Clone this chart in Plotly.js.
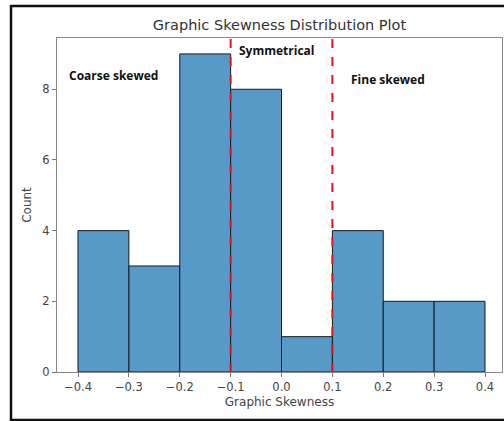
<!DOCTYPE html>
<html>
<head>
<meta charset="utf-8">
<script src="https://cdn.plot.ly/plotly-3.0.1.min.js"></script>
<style>
html,body{margin:0;padding:0;background:#fff;}
#chart{width:504px;height:421px;}
</style>
</head>
<body>
<div id="chart"></div>
<script>
// Data
const binEdges = [-0.4, -0.3, -0.2, -0.1, 0.0, 0.1, 0.2, 0.3, 0.4];
const counts = [4, 3, 9, 8, 1, 4, 2, 2];
const boundaries = [-0.1, 0.1];
const xTicks = [-0.4, -0.3, -0.2, -0.1, 0.0, 0.1, 0.2, 0.3, 0.4];
const xTickLabels = ['\u22120.4', '\u22120.3', '\u22120.2', '\u22120.1', '0.0', '0.1', '0.2', '0.3', '0.4'];
const yTicks = [0, 2, 4, 6, 8];
const regionLabels = ['Coarse skewed', 'Symmetrical', 'Fine skewed'];
const regionX = [-0.422, -0.088, 0.133];
const regionY = [8.4, 9.1, 8.27];

const centers = counts.map((c, i) => (binEdges[i] + binEdges[i + 1]) / 2);
const widths = counts.map((c, i) => binEdges[i + 1] - binEdges[i]);

const trace = {
  type: 'bar',
  x: centers,
  y: counts,
  width: widths,
  marker: { color: '#5799c7', line: { color: '#1a1a1a', width: 1 } },
  hoverinfo: 'skip'
};

const shapes = boundaries.map(b => ({
  type: 'line', xref: 'x', yref: 'paper', x0: b, x1: b, y0: 0, y1: 1,
  line: { color: '#e8121a', width: 2, dash: 'dash' }
}));
// outer frame
shapes.push({
  type: 'rect', xref: 'paper', yref: 'paper',
  x0: (11 - 57) / 445, x1: (520 - 57) / 445,
  y0: -(420 - 372) / 334, y1: 1 + (38 - 6) / 334,
  line: { color: '#111', width: 2.5 }, fillcolor: 'rgba(0,0,0,0)', layer: 'below'
});

const annotations = regionLabels.map((t, i) => ({
  x: regionX[i], y: regionY[i], xref: 'x', yref: 'y',
  text: '<b>' + t + '</b>', showarrow: false, xanchor: 'left', yanchor: 'middle',
  font: { family: 'Open Sans, sans-serif', size: 12, color: '#111' }
}));

const layout = {
  width: 504, height: 421,
  margin: { l: 57, r: 2, t: 38, b: 49, pad: 0 },
  paper_bgcolor: '#fff', plot_bgcolor: '#fff',
  showlegend: false,
  bargap: 0,
  font: { family: 'DejaVu Sans, sans-serif', color: '#444' },
  title: {
    text: 'Graphic Skewness Distribution Plot',
    x: 0.5, xref: 'paper', xanchor: 'center',
    y: 1 - 25 / 421, yref: 'container', yanchor: 'middle',
    font: { family: 'DejaVu Sans, sans-serif', size: 14.5, color: '#333' }
  },
  xaxis: {
    range: [-0.4413, 0.4334],
    tickmode: 'array', tickvals: xTicks, ticktext: xTickLabels,
    ticks: 'outside', ticklen: 4, tickcolor: '#777', tickwidth: 1,
    tickfont: { size: 11.5, color: '#444' },
    showgrid: false, zeroline: false,
    showline: true, linecolor: '#888', linewidth: 1, mirror: true,
    title: { text: 'Graphic Skewness', font: { size: 12, color: '#444' }, standoff: 4 }
  },
  yaxis: {
    range: [0, 9.45],
    tickmode: 'array', tickvals: yTicks,
    ticks: 'outside', ticklen: 4, tickcolor: '#777', tickwidth: 1,
    tickfont: { size: 11.5, color: '#444' },
    showgrid: false, zeroline: false,
    showline: true, linecolor: '#888', linewidth: 1, mirror: true,
    title: { text: 'Count', font: { size: 12, color: '#444' }, standoff: 8 }
  },
  shapes: shapes,
  annotations: annotations
};

Plotly.newPlot('chart', [trace], layout, { displayModeBar: false, staticPlot: true });
</script>
</body>
</html>
